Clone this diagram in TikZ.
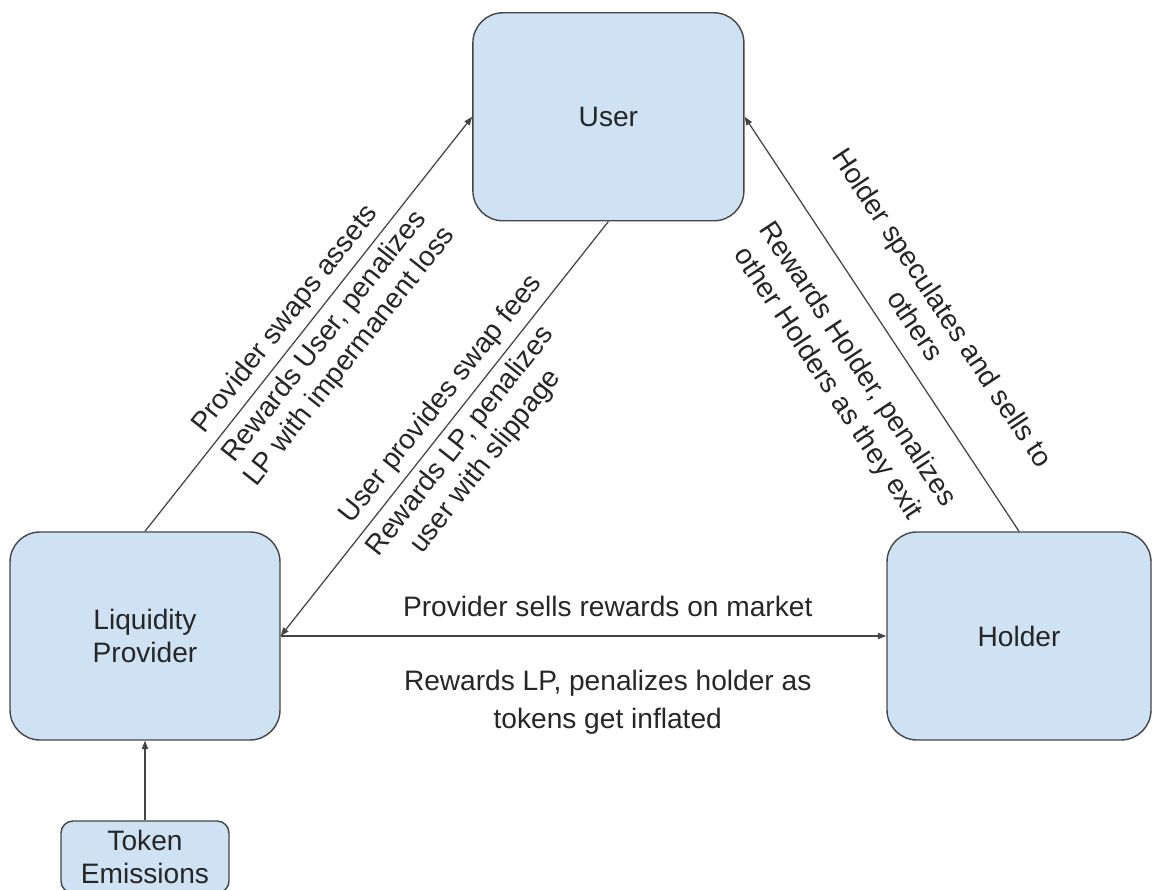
\documentclass[tikz,border=0pt]{standalone}
\usepackage{fontspec}
\setmainfont{Liberation Sans}
\usetikzlibrary{arrows.meta}

\definecolor{boxblue}{HTML}{CFE2F3}
\definecolor{edgegray}{HTML}{454545}

\begin{document}
\begin{tikzpicture}[
  every node/.style={font=\fontsize{20}{23}\selectfont, text=black!85},
  party/.style={draw=edgegray, fill=boxblue, rounded corners=0.75cm, line width=1pt,
    minimum height=5.2cm, align=center},
  source/.style={draw=edgegray, fill=boxblue, rounded corners=0.3cm, line width=1pt,
    minimum width=4.2cm, minimum height=1.8cm, inner sep=0pt, align=center},
  flow/.style={draw=edgegray, line width=0.9pt, -{Triangle[length=6pt,width=4.5pt]}},
  lbl/.style={sloped, inner sep=5pt, align=center}
]
\useasboundingbox (0,0) rectangle (28.8,22.25);

%the three parties
\node[party, minimum width=6.775cm] (user) at (15.21,19.33) {User};
\node[party, minimum width=6.75cm] (lp) at (3.625,6.35) {Liquidity\\Provider};
\node[party, minimum width=6.6cm] (holder) at (25.475,6.35) {Holder};

%emissions feed the provider
\node[source] (emit) at (3.625,0.825) {Token\\Emissions};
\draw[flow] (emit.north) -- (lp.south);

%provider <-> user
\draw[flow] (lp.north) -- (user.west)
  node[lbl, pos=0.48, above] {Provider swaps assets}
  node[lbl, pos=0.5, below] {Rewards User, penalizes\\LP with impermanent loss};
\draw[flow] (user.south) -- (lp.east)
  node[lbl, pos=0.46, above] {User provides swap fees}
  node[lbl, pos=0.5, below] {Rewards LP, penalizes\\user with slippage};

%holder -> user
\draw[flow] (holder.north) -- (user.east)
  node[lbl, pos=0.46, above, inner sep=12pt] {Holder speculates and sells to\\others}
  node[lbl, pos=0.46, below, inner sep=21pt] {Rewards Holder, penalizes\\[2pt]other Holders as they exit};

%provider -> holder
\draw[flow] (lp.east) -- (holder.west)
  node[pos=0.54, above=0.43cm, inner sep=1pt] {Provider sells rewards on market}
  node[pos=0.54, below=0.8cm, inner sep=1pt, align=center] {Rewards LP, penalizes holder as\\[4pt]tokens get inflated};

\end{tikzpicture}
\end{document}
